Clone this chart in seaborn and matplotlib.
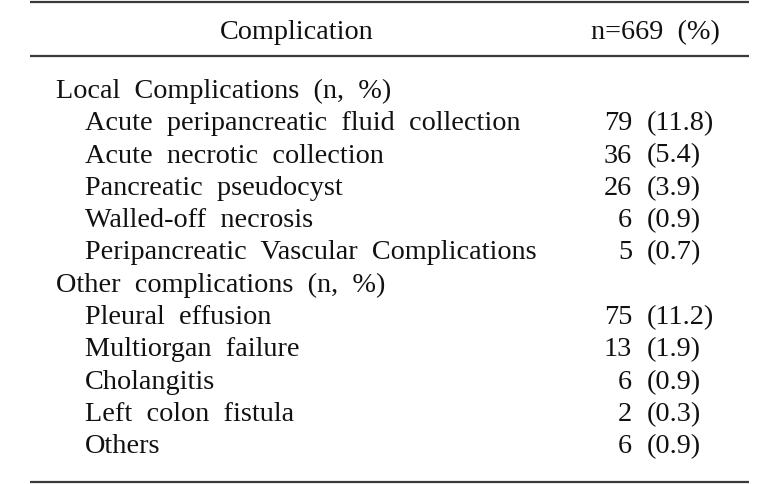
import matplotlib
matplotlib.use("Agg")
import matplotlib.pyplot as plt
import seaborn as sns
import pandas as pd

header = ["Complication", "n=669  (%)"]
groups = ["Local  Complications  (n,  %)", "Other  complications  (n,  %)"]
local_items = ["Acute  peripancreatic  fluid  collection", "Acute  necrotic  collection",
               "Pancreatic  pseudocyst", "Walled-off  necrosis",
               "Peripancreatic  Vascular  Complications"]
local_n = [79, 36, 26, 6, 5]
local_pct = [11.8, 5.4, 3.9, 0.9, 0.7]
other_items = ["Pleural  effusion", "Multiorgan  failure", "Cholangitis",
               "Left  colon  fistula", "Others"]
other_n = [75, 13, 6, 2, 6]
other_pct = [11.2, 1.9, 0.9, 0.3, 0.9]

rows = [(groups[0], None, None, 0)]
rows += [(a, b, c, 1) for a, b, c in zip(local_items, local_n, local_pct)]
rows += [(groups[1], None, None, 0)]
rows += [(a, b, c, 1) for a, b, c in zip(other_items, other_n, other_pct)]
df = pd.DataFrame(rows, columns=["label", "n", "pct", "level"])

sns.set_theme(style="white")
plt.rcParams["font.family"] = ["Liberation Serif", "DejaVu Serif"]

W, H = 767, 485
fig = plt.figure(figsize=(W / 100, H / 100), dpi=100)
ax = fig.add_axes([0, 0, 1, 1])
ax.set_xlim(0, W)
ax.set_ylim(H, 0)
ax.axis("off")

fs = 20.3
col = "#111111"
line_col = "#3a3a3a"
x0, x1 = 30, 749
for y in [2.5, 57, 483]:
    ax.plot([x0, x1], [y, y], color=line_col, lw=1.6, solid_capstyle="butt")

ax.text(297, 39, header[0], ha="center", va="baseline", fontsize=fs, color=col)
ax.text(655, 39, header[1], ha="center", va="baseline", fontsize=fs, color=col)

y_start, dy = 98, 32.3
for i, r in df.iterrows():
    y = y_start + i * dy
    x = 56 if r.level == 0 else 85
    ax.text(x, y, r.label, ha="left", va="baseline", fontsize=fs, color=col)
    if r.level == 1:
        ax.text(632, y, f"{int(r.n)}", ha="right", va="baseline", fontsize=fs, color=col)
        ax.text(647, y, f"({r.pct:.1f})", ha="left", va="baseline", fontsize=fs, color=col)

fig.savefig("out.png", dpi=100)
